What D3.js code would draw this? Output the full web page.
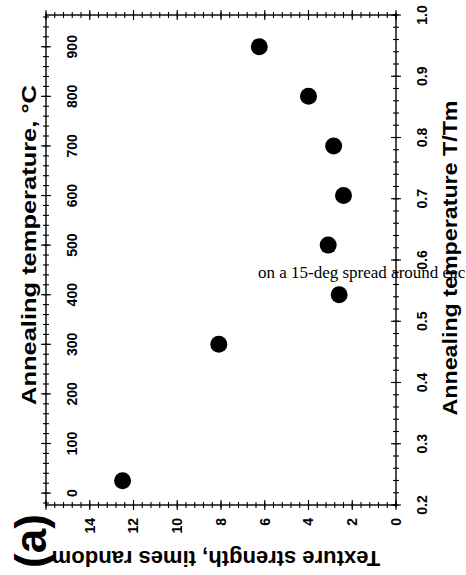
<!DOCTYPE html>
<html>
<head>
<meta charset="utf-8">
<script src="https://cdn.jsdelivr.net/npm/d3@7/dist/d3.min.js"></script>
<style>
    body { margin: 0; background: #fff; }
    svg { display: block; }
</style>
</head>
<body>
<script>
// values (figure is turned on its side)
var temperature = [25, 300, 400, 500, 600, 700, 800, 900];      // annealing temperature, C
var strength = [12.5, 8.1, 2.6, 3.1, 2.4, 2.85, 4.0, 6.25];      // texture strength, times random

// tick labels
var strengthTicks = [0, 2, 4, 6, 8, 10, 12, 14];
var tempTicks = [0, 100, 200, 300, 400, 500, 600, 700, 800, 900];
var ratioTicks = [0.2, 0.3, 0.4, 0.5, 0.6, 0.7, 0.8, 0.9, 1.0];

var width = 466;
var height = 575;

var frame = { left: 46, right: 396, top: 15, bottom: 505 };

var boldFont = "'Liberation Sans', Arial, sans-serif";

var svg = d3.select("body")
    .append("svg")
    .attr("width", width)
    .attr("height", height);

// scales
var x = d3.scaleLinear().domain([16, 0]).range([frame.left, frame.right]);
var yTemp = d3.scaleLinear().domain([-24, 964]).range([frame.bottom, frame.top]);
var yRatio = d3.scaleLinear().domain([0.2, 1.0]).range([frame.bottom, frame.top]);

// frame
svg.append("rect")
    .attr("x", frame.left)
    .attr("y", frame.top)
    .attr("width", frame.right - frame.left)
    .attr("height", frame.bottom - frame.top)
    .attr("fill", "none")
    .attr("stroke", "#000")
    .attr("stroke-width", 1.4);

// ticks that cross the frame line
function hTicks(values, y0, len) {
    svg.append("g")
        .selectAll("line")
        .data(values)
        .enter().append("line")
        .attr("x1", function (d) { return x(d); })
        .attr("x2", function (d) { return x(d); })
        .attr("y1", y0 - len)
        .attr("y2", y0 + len)
        .attr("stroke", "#000")
        .attr("stroke-width", 1.1);
}

function vTicks(scale, values, x0, len) {
    svg.append("g")
        .selectAll("line")
        .data(values)
        .enter().append("line")
        .attr("y1", function (d) { return scale(d); })
        .attr("y2", function (d) { return scale(d); })
        .attr("x1", x0 - len)
        .attr("x2", x0 + len)
        .attr("stroke", "#000")
        .attr("stroke-width", 1.1);
}

var strengthMinor = d3.range(0, 81).map(function (i) { return i * 0.4; }).filter(function (d) { return d <= 16; });
var tempMinor = d3.range(-1, 49).map(function (i) { return i * 20; }).filter(function (d) { return d >= -24 && d <= 964; });
var ratioMinor = d3.range(10, 51).map(function (i) { return i * 0.02; });

hTicks(strengthMinor, frame.bottom, 3);
hTicks(strengthTicks.concat([16]), frame.bottom, 5);
hTicks(strengthMinor, frame.top, 3);
hTicks(strengthTicks.concat([16]), frame.top, 5);

vTicks(yTemp, tempMinor, frame.left, 3);
vTicks(yTemp, tempTicks, frame.left, 5);
vTicks(yRatio, ratioMinor, frame.right, 3);
vTicks(yRatio, ratioTicks, frame.right, 5);

// tick labels, all turned -90deg
svg.append("g")
    .selectAll("text")
    .data(strengthTicks)
    .enter().append("text")
    .attr("transform", function (d) { return "translate(" + x(d) + "," + (frame.bottom + 13) + ") rotate(-90)"; })
    .attr("text-anchor", "end")
    .attr("dy", "0.35em")
    .style("font", "bold 14px " + boldFont)
    .text(function (d) { return d; });

svg.append("g")
    .selectAll("text")
    .data(tempTicks)
    .enter().append("text")
    .attr("transform", function (d) { return "translate(72," + yTemp(d) + ") rotate(-90)"; })
    .attr("text-anchor", "middle")
    .attr("dy", "0.35em")
    .style("font", "bold 14px " + boldFont)
    .text(function (d) { return d; });

svg.append("g")
    .selectAll("text")
    .data(ratioTicks)
    .enter().append("text")
    .attr("transform", function (d) { return "translate(422," + yRatio(d) + ") rotate(-90)"; })
    .attr("text-anchor", "middle")
    .attr("dy", "0.35em")
    .style("font", "bold 14px " + boldFont)
    .text(d3.format(".1f"));

// axis titles
svg.append("text")
    .attr("transform", "translate(36,245) rotate(-90)")
    .attr("text-anchor", "middle")
    .attr("textLength", 320)
    .attr("lengthAdjust", "spacingAndGlyphs")
    .style("font", "bold 21px " + boldFont)
    .text("Annealing temperature, °C");

svg.append("text")
    .attr("transform", "translate(457,258) rotate(-90)")
    .attr("text-anchor", "middle")
    .attr("textLength", 315)
    .attr("lengthAdjust", "spacingAndGlyphs")
    .style("font", "bold 21px " + boldFont)
    .text("Annealing temperature T/Tm");

svg.append("text")
    .attr("transform", "translate(216,551) rotate(180)")
    .attr("text-anchor", "middle")
    .style("font", "bold 22px " + boldFont)
    .text("Texture strength, times random");

svg.append("text")
    .attr("transform", "translate(46,541) rotate(-90)")
    .attr("text-anchor", "middle")
    .style("font", "bold 44px " + boldFont)
    .text("(a)");

// data points
svg.append("g")
    .selectAll("circle")
    .data(temperature)
    .enter().append("circle")
    .attr("cx", function (d, i) { return x(strength[i]); })
    .attr("cy", function (d) { return yTemp(d); })
    .attr("r", 8.5)
    .attr("fill", "#000");

// stray caption fragment lying over the plot
svg.append("text")
    .attr("x", 258)
    .attr("y", 278)
    .style("font", "17px 'Liberation Serif', 'Times New Roman', serif")
    .text("on a 15-deg spread around each");
</script>
</body>
</html>
